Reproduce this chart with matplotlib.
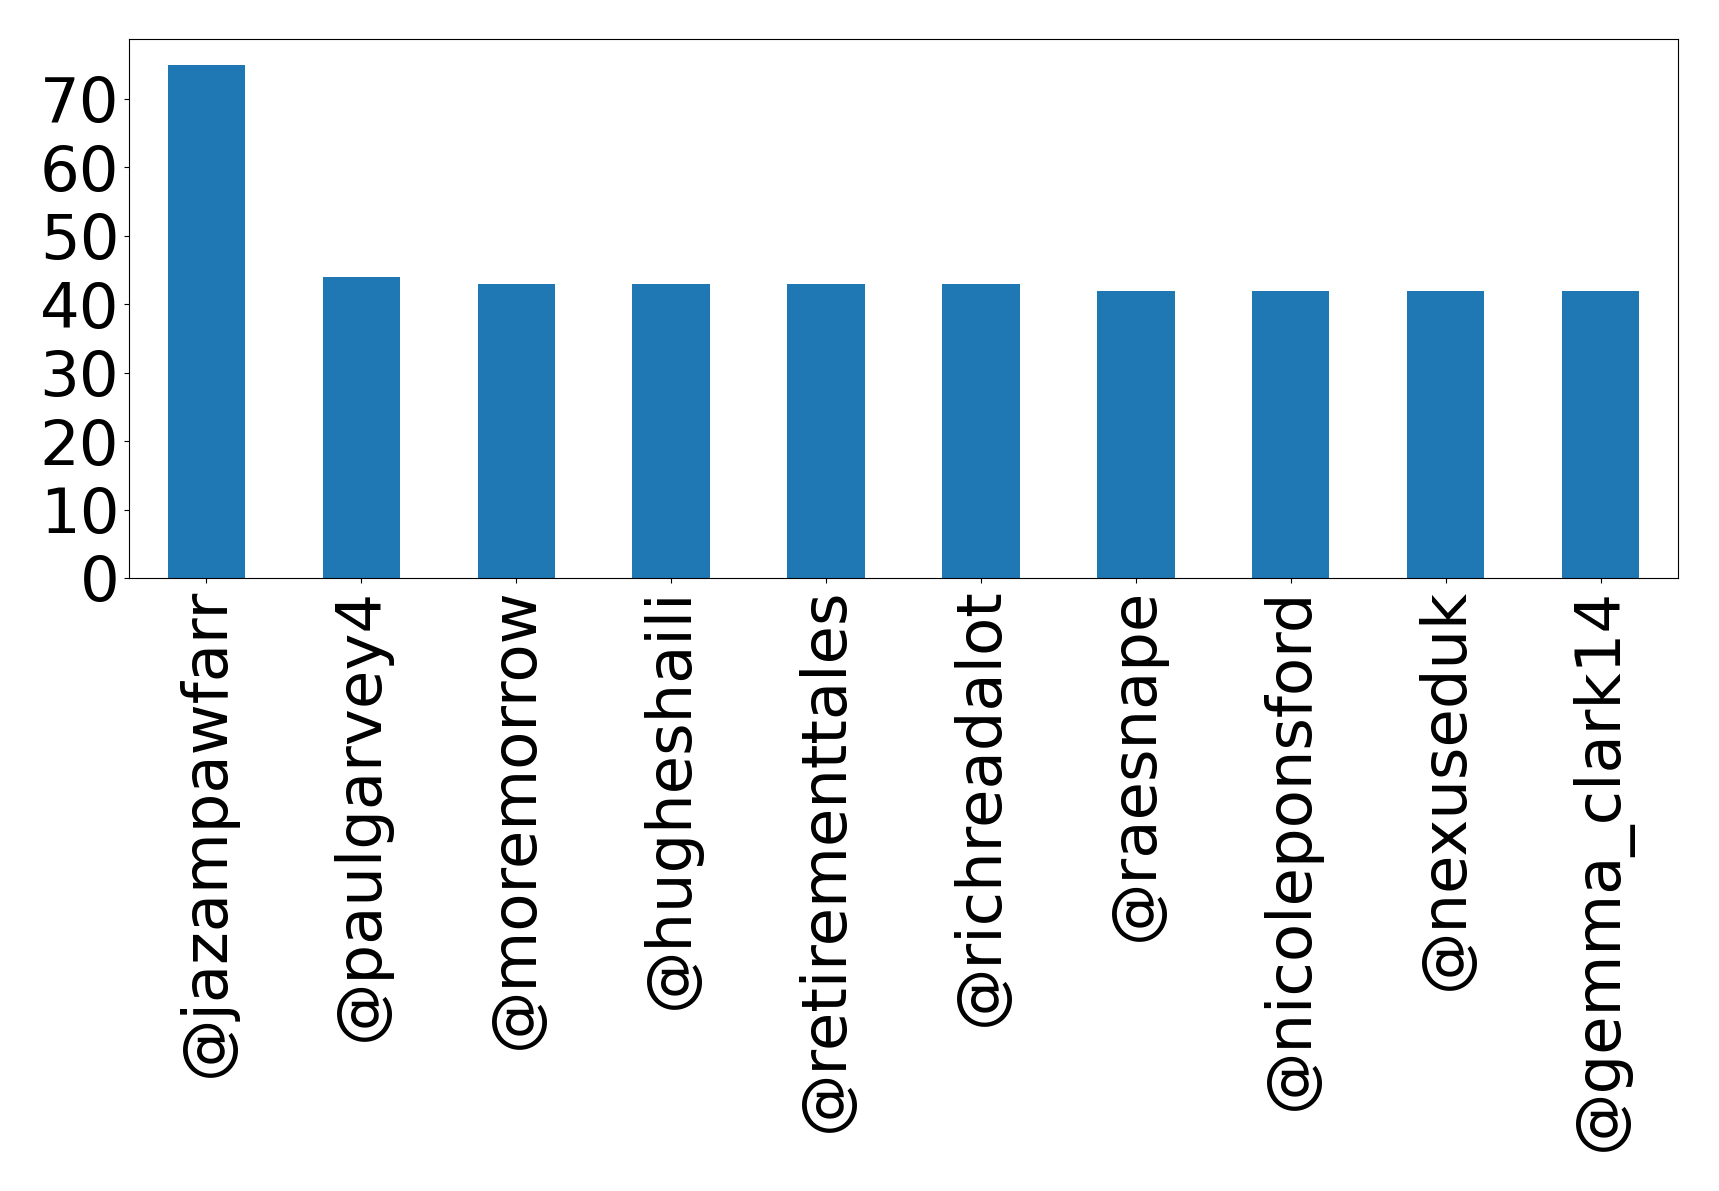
import matplotlib
matplotlib.use('Agg')
import matplotlib.pyplot as plt
import numpy as np

# Accounts and counts
accounts = ['@jazampawfarr', '@paulgarvey4', '@moremorrow', '@hugheshaili',
            '@retirementtales', '@richreadalot', '@raesnape', '@nicoleponsford',
            '@nexuseduk', '@gemma_clark14']
counts = [75, 44, 43, 43, 43, 43, 42, 42, 42, 42]

fig = plt.figure(figsize=(17.19, 11.91), dpi=100)
ax = fig.add_axes([129 / 1719, 1 - 578 / 1191, (1678 - 129) / 1719, (578 - 39) / 1191])

x = np.arange(len(accounts))
ax.bar(x, counts, width=0.5, color='#1f77b4')
ax.set_xlim(-0.5, len(accounts) - 0.5)
ax.set_xticks(x)
ax.set_xticklabels(accounts, rotation=90, fontsize=45)
ax.tick_params(axis='y', labelsize=45)
ax.set_yticks([0, 10, 20, 30, 40, 50, 60, 70])

fig.savefig('out.png', dpi=100)
